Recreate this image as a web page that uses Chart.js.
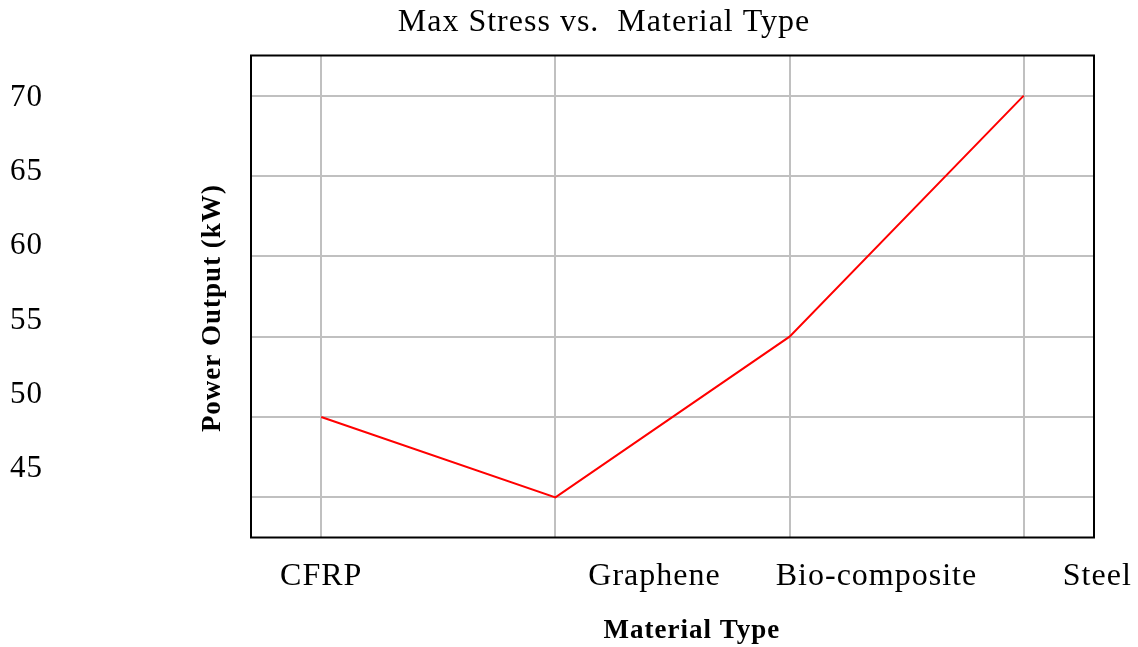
<!DOCTYPE html>
<html>
<head>
<meta charset="UTF-8">
<title>Max Stress vs. Material Type</title>
<script src="https://cdn.jsdelivr.net/npm/chart.js@4.4.1/dist/chart.umd.min.js"></script>
<style>
  html, body { margin: 0; padding: 0; background: #fff; }
  #wrap { width: 1138px; height: 647px; position: relative; }
</style>
</head>
<body>
<div id="wrap"><canvas id="grafica"></canvas></div>
<script>
// datos
const materials = ['CFRP', 'Graphene', 'Bio-composite', 'Steel'];
const maxStress = [50, 45, 55, 70];
const yTicks = [45, 50, 55, 60, 65, 70];

// where the category labels sit along the x scale (they are not under the grid lines)
const xLabelPos = [0, 1.423, 2.371, 3.314];

const serif = "'Liberation Serif', 'Times New Roman', serif";

// the text in the original is a bit wider than plain Times
const spacingPlugin = {
    id: 'spacing',
    beforeLayout(chart) { chart.ctx.letterSpacing = '1px'; },
    beforeDraw(chart) { chart.ctx.letterSpacing = '1px'; }
};

// plot frame + title shift
const framePlugin = {
    id: 'frame',
    afterLayout(chart) {
        if (chart.titleBlock) chart.titleBlock.left = 114;
    },
    afterDatasetsDraw(chart) {
        const a = chart.chartArea;
        const ctx = chart.ctx;
        ctx.save();
        ctx.strokeStyle = '#000';
        ctx.lineWidth = 2;
        ctx.strokeRect(a.left, a.top, a.right - a.left, a.bottom - a.top);
        ctx.restore();
    }
};

new Chart(document.getElementById('grafica'), {
    type: 'line',
    data: {
        datasets: [{
            label: 'Max Stress',
            data: maxStress.map((v, i) => ({x: i, y: v})),
            borderColor: '#ff0000',
            borderWidth: 2,
            pointRadius: 0,
            tension: 0,
            fill: false
        }]
    },
    options: {
        responsive: true,
        maintainAspectRatio: false,
        animation: false,
        layout: { padding: { left: 10, right: 44, top: 0, bottom: 0 } },
        scales: {
            x: {
                type: 'linear',
                position: 'bottom',
                min: -0.3,
                max: 3.3,
                bounds: 'data',
                weight: 0,
                border: { display: false },
                grid: { color: '#c0c0c0', lineWidth: 2, drawTicks: false },
                afterBuildTicks: s => { s.ticks = materials.map((m, i) => ({value: i})); },
                afterFit: s => { s.height = 0; },
                ticks: { display: false }
            },
            xLabels: {
                type: 'linear',
                position: 'bottom',
                min: -0.3,
                max: 3.3,
                bounds: 'data',
                weight: 1,
                border: { display: false },
                grid: { display: false, drawTicks: false },
                afterBuildTicks: s => { s.ticks = xLabelPos.map(v => ({value: v})); },
                afterFit: s => { s.height = 109.5; s.paddingLeft = 0; s.paddingRight = 0; },
                ticks: {
                    autoSkip: false,
                    maxRotation: 0,
                    padding: 20.3,
                    color: '#000',
                    font: { family: serif, size: 32 },
                    callback: (v, i) => materials[i]
                },
                title: {
                    display: true,
                    text: '     Material Type',
                    color: '#000',
                    font: { family: serif, size: 27, weight: 'bold' },
                    padding: { top: 10, bottom: 0 }
                }
            },
            y: {
                type: 'linear',
                position: 'left',
                min: 42.5,
                max: 72.5,
                bounds: 'data',
                weight: 0,
                border: { display: false },
                grid: { color: '#c0c0c0', lineWidth: 2, drawTicks: false },
                afterBuildTicks: s => { s.ticks = yTicks.map(v => ({value: v})); },
                ticks: { display: false },
                title: {
                    display: true,
                    text: 'Power Output (kW)   ',
                    color: '#000',
                    font: { family: serif, size: 27, weight: 'bold' },
                    padding: { top: 4, bottom: 21.8 }
                }
            },
            yLabels: {
                type: 'linear',
                position: 'left',
                min: 40.35,
                max: 72.87,
                bounds: 'data',
                weight: 1,
                border: { display: false },
                grid: { display: false, drawTicks: false },
                afterBuildTicks: s => { s.ticks = yTicks.map(v => ({value: v})); },
                afterFit: s => { s.width = 182.8; s.paddingTop = 0; s.paddingBottom = 0; },
                ticks: {
                    crossAlign: 'far',
                    padding: 0,
                    color: '#000',
                    font: { family: serif, size: 31 }
                }
            }
        },
        plugins: {
            legend: { display: false },
            tooltip: { enabled: false },
            title: {
                display: true,
                text: 'Max Stress vs.  Material Type',
                color: '#000',
                font: { family: serif, size: 32, weight: 'normal' },
                padding: { top: 3.5, bottom: 13.6 }
            }
        }
    },
    plugins: [spacingPlugin, framePlugin]
});
</script>
</body>
</html>
